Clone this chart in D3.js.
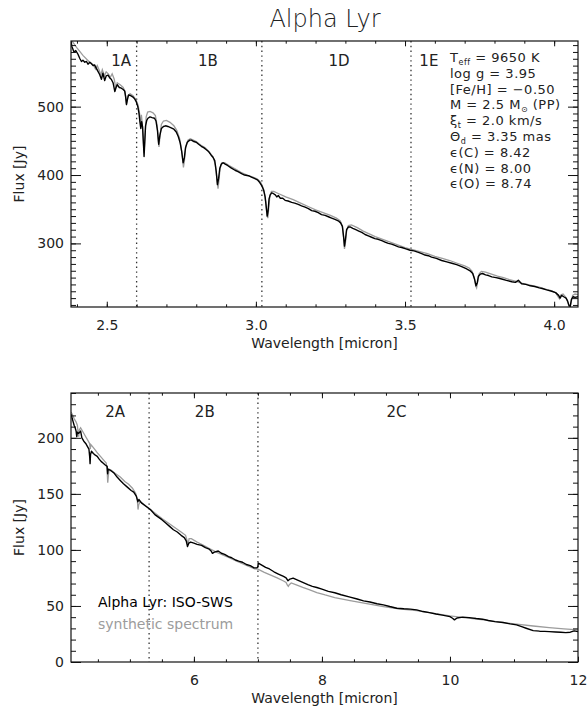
<!DOCTYPE html>
<html><head><meta charset="utf-8">
<script src="https://cdn.jsdelivr.net/npm/d3@7"></script>
<style>body{margin:0;background:#fff}svg text{font-family:"DejaVu Sans",sans-serif}</style>
</head><body><svg id="c" width="587" height="712"></svg>
<script>
// ---------- DATA ----------
const obsTop = [[2.380,596],[2.383,588],[2.390,580],[2.396,582],[2.403,577],[2.410,570],[2.415,566],[2.420,568],[2.426,565],[2.432,566],[2.437,562],[2.443,565],[2.448,563],[2.454,560],[2.459,561],[2.465,556],[2.470,552],[2.476,547],[2.482,540],[2.487,549],[2.493,538],[2.498,545],[2.504,546],[2.510,542],[2.515,540],[2.521,535],[2.527,522],[2.531,528],[2.535,532],[2.542,528],[2.549,527],[2.555,525],[2.560,523],[2.563,515],[2.566,503],[2.569,510],[2.573,517],[2.580,516],[2.588,514],[2.594,511],[2.599,507],[2.604,500],[2.608,490],[2.611,478],[2.614,468],[2.617,478],[2.620,470],[2.623,445],[2.625,427],[2.627,445],[2.630,472],[2.634,480],[2.638,483],[2.645,485],[2.652,484],[2.660,483],[2.665,479],[2.670,465],[2.674,445],[2.678,458],[2.683,468],[2.690,471],[2.697,472],[2.705,471],[2.716,469],[2.725,467],[2.733,463],[2.740,456],[2.746,447],[2.751,435],[2.756,418],[2.760,425],[2.764,440],[2.770,448],[2.778,451],[2.784,451],[2.792,449],[2.800,448],[2.808,445],[2.817,442],[2.825,440],[2.834,437],[2.842,434],[2.850,429],[2.856,426],[2.862,421],[2.867,405],[2.871,386],[2.875,395],[2.879,410],[2.884,416],[2.890,418],[2.897,416],[2.905,414],[2.918,410],[2.930,407],[2.940,405],[2.952,402],[2.962,400],[2.975,399],[2.985,397],[2.995,395],[3.005,393],[3.013,389],[3.020,384],[3.026,378],[3.031,368],[3.035,352],[3.038,340],[3.041,348],[3.044,365],[3.048,371],[3.053,374],[3.058,373],[3.065,371],[3.070,368],[3.075,370],[3.082,366],[3.090,366],[3.098,363],[3.108,362],[3.120,360],[3.130,359],[3.142,357],[3.153,355],[3.165,353],[3.176,351],[3.187,348],[3.198,347],[3.209,345],[3.220,342],[3.232,341],[3.243,339],[3.254,337],[3.265,335],[3.276,333],[3.284,330],[3.290,325],[3.294,310],[3.297,296],[3.300,305],[3.304,320],[3.310,324],[3.316,324],[3.325,322],[3.335,320],[3.345,318],[3.355,316],[3.366,313],[3.377,311],[3.388,309],[3.399,307],[3.410,306],[3.422,304],[3.433,302],[3.444,300],[3.455,299],[3.466,297],[3.478,295],[3.489,294],[3.503,292],[3.517,290],[3.530,289],[3.545,287],[3.556,285],[3.567,283],[3.578,282],[3.589,280],[3.605,278],[3.623,275],[3.640,273],[3.657,271],[3.673,269],[3.690,266],[3.705,263],[3.718,260],[3.727,256],[3.733,248],[3.738,238],[3.742,242],[3.746,252],[3.752,255],[3.760,256],[3.770,254],[3.780,253],[3.791,251],[3.805,250],[3.815,249],[3.824,248],[3.840,246],[3.858,244],[3.870,243],[3.880,246],[3.891,241],[3.905,240],[3.920,238],[3.935,237],[3.950,235],[3.960,234],[3.975,232],[3.992,230],[4.005,228],[4.015,224],[4.020,220],[4.025,224],[4.032,222],[4.040,220],[4.045,216],[4.050,209],[4.054,208],[4.058,218],[4.064,222],[4.070,221],[4.080,222]];

const synTop = [[2.380,598],[2.400,586],[2.420,575],[2.440,566],[2.455,561],[2.462,555],[2.468,560],[2.475,553],[2.480,546],[2.485,554],[2.492,545],[2.498,551],[2.505,548],[2.512,543],[2.518,548],[2.525,540],[2.530,527],[2.535,535],[2.545,532],[2.555,528],[2.561,522],[2.566,504],[2.570,515],[2.578,519],[2.588,516],[2.598,510],[2.605,502],[2.610,490],[2.613,476],[2.616,488],[2.620,470],[2.623,445],[2.625,432],[2.628,455],[2.632,485],[2.637,492],[2.645,493],[2.655,491],[2.663,487],[2.669,472],[2.673,450],[2.675,441],[2.678,455],[2.683,474],[2.690,479],[2.700,480],[2.712,477],[2.725,472],[2.735,465],[2.745,452],[2.752,432],[2.757,411],[2.760,420],[2.765,442],[2.772,451],[2.780,453],[2.790,451],[2.800,449],[2.815,444],[2.830,440],[2.845,433],[2.857,426],[2.864,415],[2.869,395],[2.873,380],[2.876,392],[2.880,410],[2.886,418],[2.895,418],[2.910,414],[2.930,409],[2.950,404],[2.970,400],[2.990,397],[3.005,394],[3.015,390],[3.022,384],[3.028,375],[3.033,360],[3.037,341],[3.040,337],[3.043,352],[3.047,370],[3.052,376],[3.060,376],[3.075,373],[3.100,368],[3.125,364],[3.150,359],[3.175,354],[3.200,349],[3.225,345],[3.250,341],[3.270,337],[3.283,333],[3.290,325],[3.294,308],[3.297,292],[3.300,300],[3.304,318],[3.310,326],[3.320,327],[3.340,323],[3.360,318],[3.380,314],[3.400,310],[3.425,306],[3.450,302],[3.475,298],[3.500,294],[3.525,291],[3.550,288],[3.575,285],[3.600,281],[3.625,278],[3.650,275],[3.675,271],[3.700,267],[3.715,264],[3.725,259],[3.732,250],[3.737,238],[3.740,235],[3.744,245],[3.749,256],[3.756,259],[3.770,258],[3.790,255],[3.810,252],[3.830,250],[3.850,247],[3.870,245],[3.890,242],[3.910,240],[3.930,238],[3.950,236],[3.970,233],[3.990,231],[4.005,228],[4.013,222],[4.018,219],[4.023,225],[4.030,226],[4.038,222],[4.044,216],[4.049,209],[4.052,205],[4.056,212],[4.062,224],[4.070,226],[4.080,225]];

const obsBot = [[4.085,221],[4.10,217],[4.115,214],[4.13,211],[4.145,209],[4.16,206],[4.17,201],[4.18,205],[4.20,204],[4.23,206],[4.25,200],[4.28,197],[4.31,195],[4.34,192],[4.36,190],[4.372,183],[4.378,177],[4.385,185],[4.40,188],[4.43,186],[4.46,184.5],[4.49,183.5],[4.52,181],[4.55,179],[4.58,177.5],[4.61,176],[4.645,174.5],[4.652,168],[4.66,172],[4.68,171.5],[4.72,170],[4.75,168.8],[4.80,165],[4.85,162],[4.90,159],[4.96,156],[5.02,153],[5.06,151.5],[5.10,148],[5.125,143],[5.14,145],[5.18,142],[5.25,139],[5.32,136],[5.39,131.5],[5.45,129],[5.50,127],[5.56,124],[5.62,121],[5.68,118],[5.74,116],[5.80,113],[5.85,111],[5.88,108],[5.90,103],[5.92,106],[5.95,107],[6.00,106],[6.05,105],[6.12,104],[6.18,102],[6.23,101],[6.27,99],[6.29,97],[6.32,98],[6.38,99],[6.43,97],[6.48,96],[6.54,94],[6.59,93],[6.65,91],[6.70,90],[6.76,89],[6.82,87],[6.88,86],[6.94,84],[6.985,84],[7.00,85],[7.005,88.3],[7.06,86.5],[7.12,84.5],[7.18,83],[7.25,80.5],[7.32,78.5],[7.40,76.3],[7.44,75],[7.47,72.5],[7.50,74],[7.55,74.8],[7.62,73],[7.70,71],[7.78,69],[7.85,67.5],[7.92,66.5],[8.00,65],[8.10,63],[8.20,61.8],[8.30,60],[8.44,57.9],[8.55,56.2],[8.65,54.5],[8.75,53.5],[8.86,52],[8.96,51],[9.06,49.5],[9.17,48],[9.28,47.5],[9.38,47.2],[9.48,46.5],[9.58,45],[9.68,44],[9.78,42.8],[9.88,41.8],[10.00,40.5],[10.04,39],[10.07,37.6],[10.11,39.3],[10.20,40],[10.30,39.6],[10.41,38.8],[10.51,38.2],[10.60,37],[10.70,36],[10.83,35.2],[10.94,34],[11.04,33.1],[11.12,31.5],[11.19,30.1],[11.30,28],[11.40,27.5],[11.48,27.3],[11.55,27.1],[11.65,26.8],[11.73,26.5],[11.81,26.2],[11.88,26.6],[11.94,27.8],[12.00,27.1]];

const synBot = [[4.08,223],[4.10,221],[4.13,217],[4.16,214],[4.18,211],[4.19,205],[4.20,201],[4.21,207],[4.23,209],[4.27,205],[4.31,201],[4.35,197],[4.37,195],[4.38,190],[4.39,194],[4.42,192],[4.46,189],[4.50,186],[4.54,183.5],[4.60,179.5],[4.63,177.5],[4.645,170],[4.654,160],[4.663,166],[4.675,172],[4.70,171.5],[4.75,169],[4.80,167],[4.85,165],[4.92,161],[4.98,158.5],[5.04,155],[5.09,150.5],[5.115,145],[5.127,136],[5.137,140],[5.16,143.4],[5.22,140.5],[5.32,136],[5.40,132.5],[5.50,128],[5.60,124],[5.70,120],[5.80,116],[5.87,113],[5.895,108],[5.91,105],[5.925,110],[5.96,110],[6.05,107],[6.15,104],[6.25,101],[6.35,98],[6.45,95.5],[6.55,93],[6.65,90.5],[6.75,88],[6.85,85.5],[6.95,83],[7.00,82.8],[7.10,80],[7.20,77.5],[7.30,75],[7.40,72.3],[7.44,71],[7.46,68.5],[7.475,67.5],[7.49,69],[7.52,70.5],[7.60,68.8],[7.70,66.5],[7.80,64.5],[7.92,62],[8.05,59.8],[8.20,57.5],[8.44,54.8],[8.70,52],[8.96,49.5],[9.20,47.5],[9.48,45.9],[9.75,43.4],[10.00,41.1],[10.25,39.3],[10.52,37.6],[10.78,35.6],[11.04,33.7],[11.30,32.1],[11.55,30.7],[11.78,29.6],[12.00,28.6]];

const bandEdgesTop = [2.60, 3.02, 3.52];
const bandLabelsTop = [["1A",2.548],["1B",2.839],["1D",3.279],["1E",3.580]];
const bandEdgesBot = [5.30, 7.00];
const bandLabelsBot = [["2A",4.77],["2B",6.17],["2C",9.165]];

const xDomainTop = [2.38, 4.08];
const yDomainTop = [207, 596];
const xDomainBot = [4.08, 12];
const yDomainBot = [0, 240];

const xTicksTop = [2.5, 3.0, 3.5, 4.0];
const xTickLabelsTop = ["2.5", "3.0", "3.5", "4.0"];
const yTicksTop = [300, 400, 500];
const xTicksBot = [6, 8, 10, 12];
const yTicksBot = [0, 50, 100, 150, 200];

const title = "Alpha Lyr";
const xTitle = "Wavelength [micron]";
const yTitle = "Flux [Jy]";
const legendObs = "Alpha Lyr: ISO-SWS";
const legendSyn = "synthetic spectrum";

// ---------- DRAW ----------
const svg = d3.select("#c");
const FONT = "DejaVu Sans, sans-serif";
const INK = "#222";
const GREY = "#9c9c9c";

svg.append("text").attr("x", 325).attr("y", 27).attr("text-anchor", "middle")
  .attr("font-size", 24).attr("font-weight", 200).attr("fill", INK).text(title);

function range(a, b, step) { const out = []; for (let v = a; v <= b + 1e-9; v += step) out.push(+v.toFixed(4)); return out; }

function panel(o) {
  const {L, R, T, B, xd, yd, xt, xtl, yt, xminor, yminor, obs, syn, edges, labels, labelY, id} = o;
  const x = d3.scaleLinear().domain(xd).range([L, R]);
  const y = d3.scaleLinear().domain(yd).range([B, T]);
  svg.append("clipPath").attr("id", id).append("rect")
    .attr("x", L).attr("y", T).attr("width", R - L).attr("height", B - T);

  const g = svg.append("g");
  g.selectAll(".edge").data(edges).join("line")
    .attr("x1", d => x(d)).attr("x2", d => x(d)).attr("y1", T).attr("y2", B)
    .attr("stroke", "#333").attr("stroke-width", 1.3).attr("stroke-dasharray", "1.4,3.4");

  const line = d3.line().x(d => x(d[0])).y(d => y(d[1]));
  const cg = g.append("g").attr("clip-path", `url(#${id})`);
  cg.append("path").datum(syn).attr("d", line).attr("fill", "none")
    .attr("stroke", GREY).attr("stroke-width", 1.3);
  cg.append("path").datum(obs).attr("d", line).attr("fill", "none")
    .attr("stroke", "#000").attr("stroke-width", 1.4).attr("stroke-linejoin", "round");

  g.selectAll(".bl").data(labels).join("text")
    .attr("x", d => x(d[1])).attr("y", labelY).attr("text-anchor", "middle")
    .attr("font-size", 15).attr("fill", INK).text(d => d[0]);

  const style = sel => { sel.select(".domain").remove(); sel.selectAll("text").attr("font-family", FONT).attr("font-size", 14).attr("fill", INK); sel.selectAll("line").attr("stroke", "#111"); };
  const xm = xminor.filter(v => v >= xd[0] && v <= xd[1]);
  const ym = yminor.filter(v => v >= yd[0] && v <= yd[1]);

  svg.append("g").attr("transform", `translate(0,${B})`)
    .call(d3.axisBottom(x).tickValues(xm).tickSizeInner(-2.7).tickSizeOuter(0).tickFormat("")).call(style);
  svg.append("g").attr("transform", `translate(0,${B})`)
    .call(d3.axisBottom(x).tickValues(xt).tickSizeInner(-5.3).tickSizeOuter(0).tickPadding(13)
      .tickFormat((d, i) => xtl ? xtl[i] : d)).call(style);
  svg.append("g").attr("transform", `translate(0,${T})`)
    .call(d3.axisTop(x).tickValues(xm).tickSizeInner(-2.7).tickSizeOuter(0).tickFormat("")).call(style);
  svg.append("g").attr("transform", `translate(0,${T})`)
    .call(d3.axisTop(x).tickValues(xt).tickSizeInner(-5.3).tickSizeOuter(0).tickFormat("")).call(style);
  svg.append("g").attr("transform", `translate(${L},0)`)
    .call(d3.axisLeft(y).tickValues(ym).tickSizeInner(-5).tickSizeOuter(0).tickFormat("")).call(style);
  svg.append("g").attr("transform", `translate(${L},0)`)
    .call(d3.axisLeft(y).tickValues(yt).tickSizeInner(-10).tickSizeOuter(0).tickPadding(7).tickFormat(d3.format("d"))).call(style);
  svg.append("g").attr("transform", `translate(${R},0)`)
    .call(d3.axisRight(y).tickValues(ym).tickSizeInner(-5).tickSizeOuter(0).tickFormat("")).call(style);
  svg.append("g").attr("transform", `translate(${R},0)`)
    .call(d3.axisRight(y).tickValues(yt).tickSizeInner(-10).tickSizeOuter(0).tickFormat("")).call(style);

  svg.append("rect").attr("x", L).attr("y", T).attr("width", R - L).attr("height", B - T)
    .attr("fill", "none").attr("stroke", "#111").attr("stroke-width", 1.2);

  svg.append("text").attr("x", (L + R) / 2).attr("y", B + 41).attr("text-anchor", "middle")
    .attr("font-size", 14).attr("fill", INK).text(xTitle);
  svg.append("text").attr("transform", `translate(24,${(T + B) / 2}) rotate(-90)`)
    .attr("text-anchor", "middle").attr("font-size", 14).attr("fill", INK).text(yTitle);
  return {x, y};
}

panel({L: 71, R: 578, T: 41, B: 307, xd: xDomainTop, yd: yDomainTop, xt: xTicksTop, xtl: xTickLabelsTop,
  yt: yTicksTop, xminor: range(2.4, 4.0, 0.1), yminor: range(210, 590, 10),
  obs: obsTop, syn: synTop, edges: bandEdgesTop, labels: bandLabelsTop, labelY: 66, id: "clipTop"});

panel({L: 71, R: 578, T: 393, B: 662, xd: xDomainBot, yd: yDomainBot, xt: xTicksBot, xtl: null,
  yt: yTicksBot, xminor: range(4.5, 12, 0.5), yminor: range(0, 240, 10),
  obs: obsBot, syn: synBot, edges: bandEdgesBot, labels: bandLabelsBot, labelY: 417, id: "clipBot"});

// parameter block
const params = [
  [["T", 0], ["eff", 1], [" = 9650 K", -1]],
  [["log g = 3.95", 0]],
  [["[Fe/H] = −0.50", 0]],
  [["M = 2.5 M", 0], ["⊙", 1], [" (PP)", -1]],
  [["ξ", 0], ["t", 1], [" = 2.0 km/s", -1]],
  [["Θ", 0], ["d", 1], [" = 3.35 mas", -1]],
  [["ϵ(C) = 8.42", 0]],
  [["ϵ(N) = 8.00", 0]],
  [["ϵ(O) = 8.74", 0]]
];
params.forEach((row, i) => {
  const t = svg.append("text").attr("x", 450).attr("y", 62 + i * 15.8).attr("font-size", 13)
    .attr("letter-spacing", 0.5).attr("fill", INK);
  row.forEach(([s, sub]) => {
    const ts = t.append("tspan").text(s);
    if (sub === 1) ts.attr("font-size", 8).attr("dy", 2.5);
    else if (sub === -1) ts.attr("dy", -2.5);
  });
});

// legend
svg.append("text").attr("x", 98).attr("y", 607).attr("font-size", 14).attr("fill", "#000").text(legendObs);
svg.append("text").attr("x", 98).attr("y", 629).attr("font-size", 14).attr("fill", GREY).text(legendSyn);
</script>
</body></html>
